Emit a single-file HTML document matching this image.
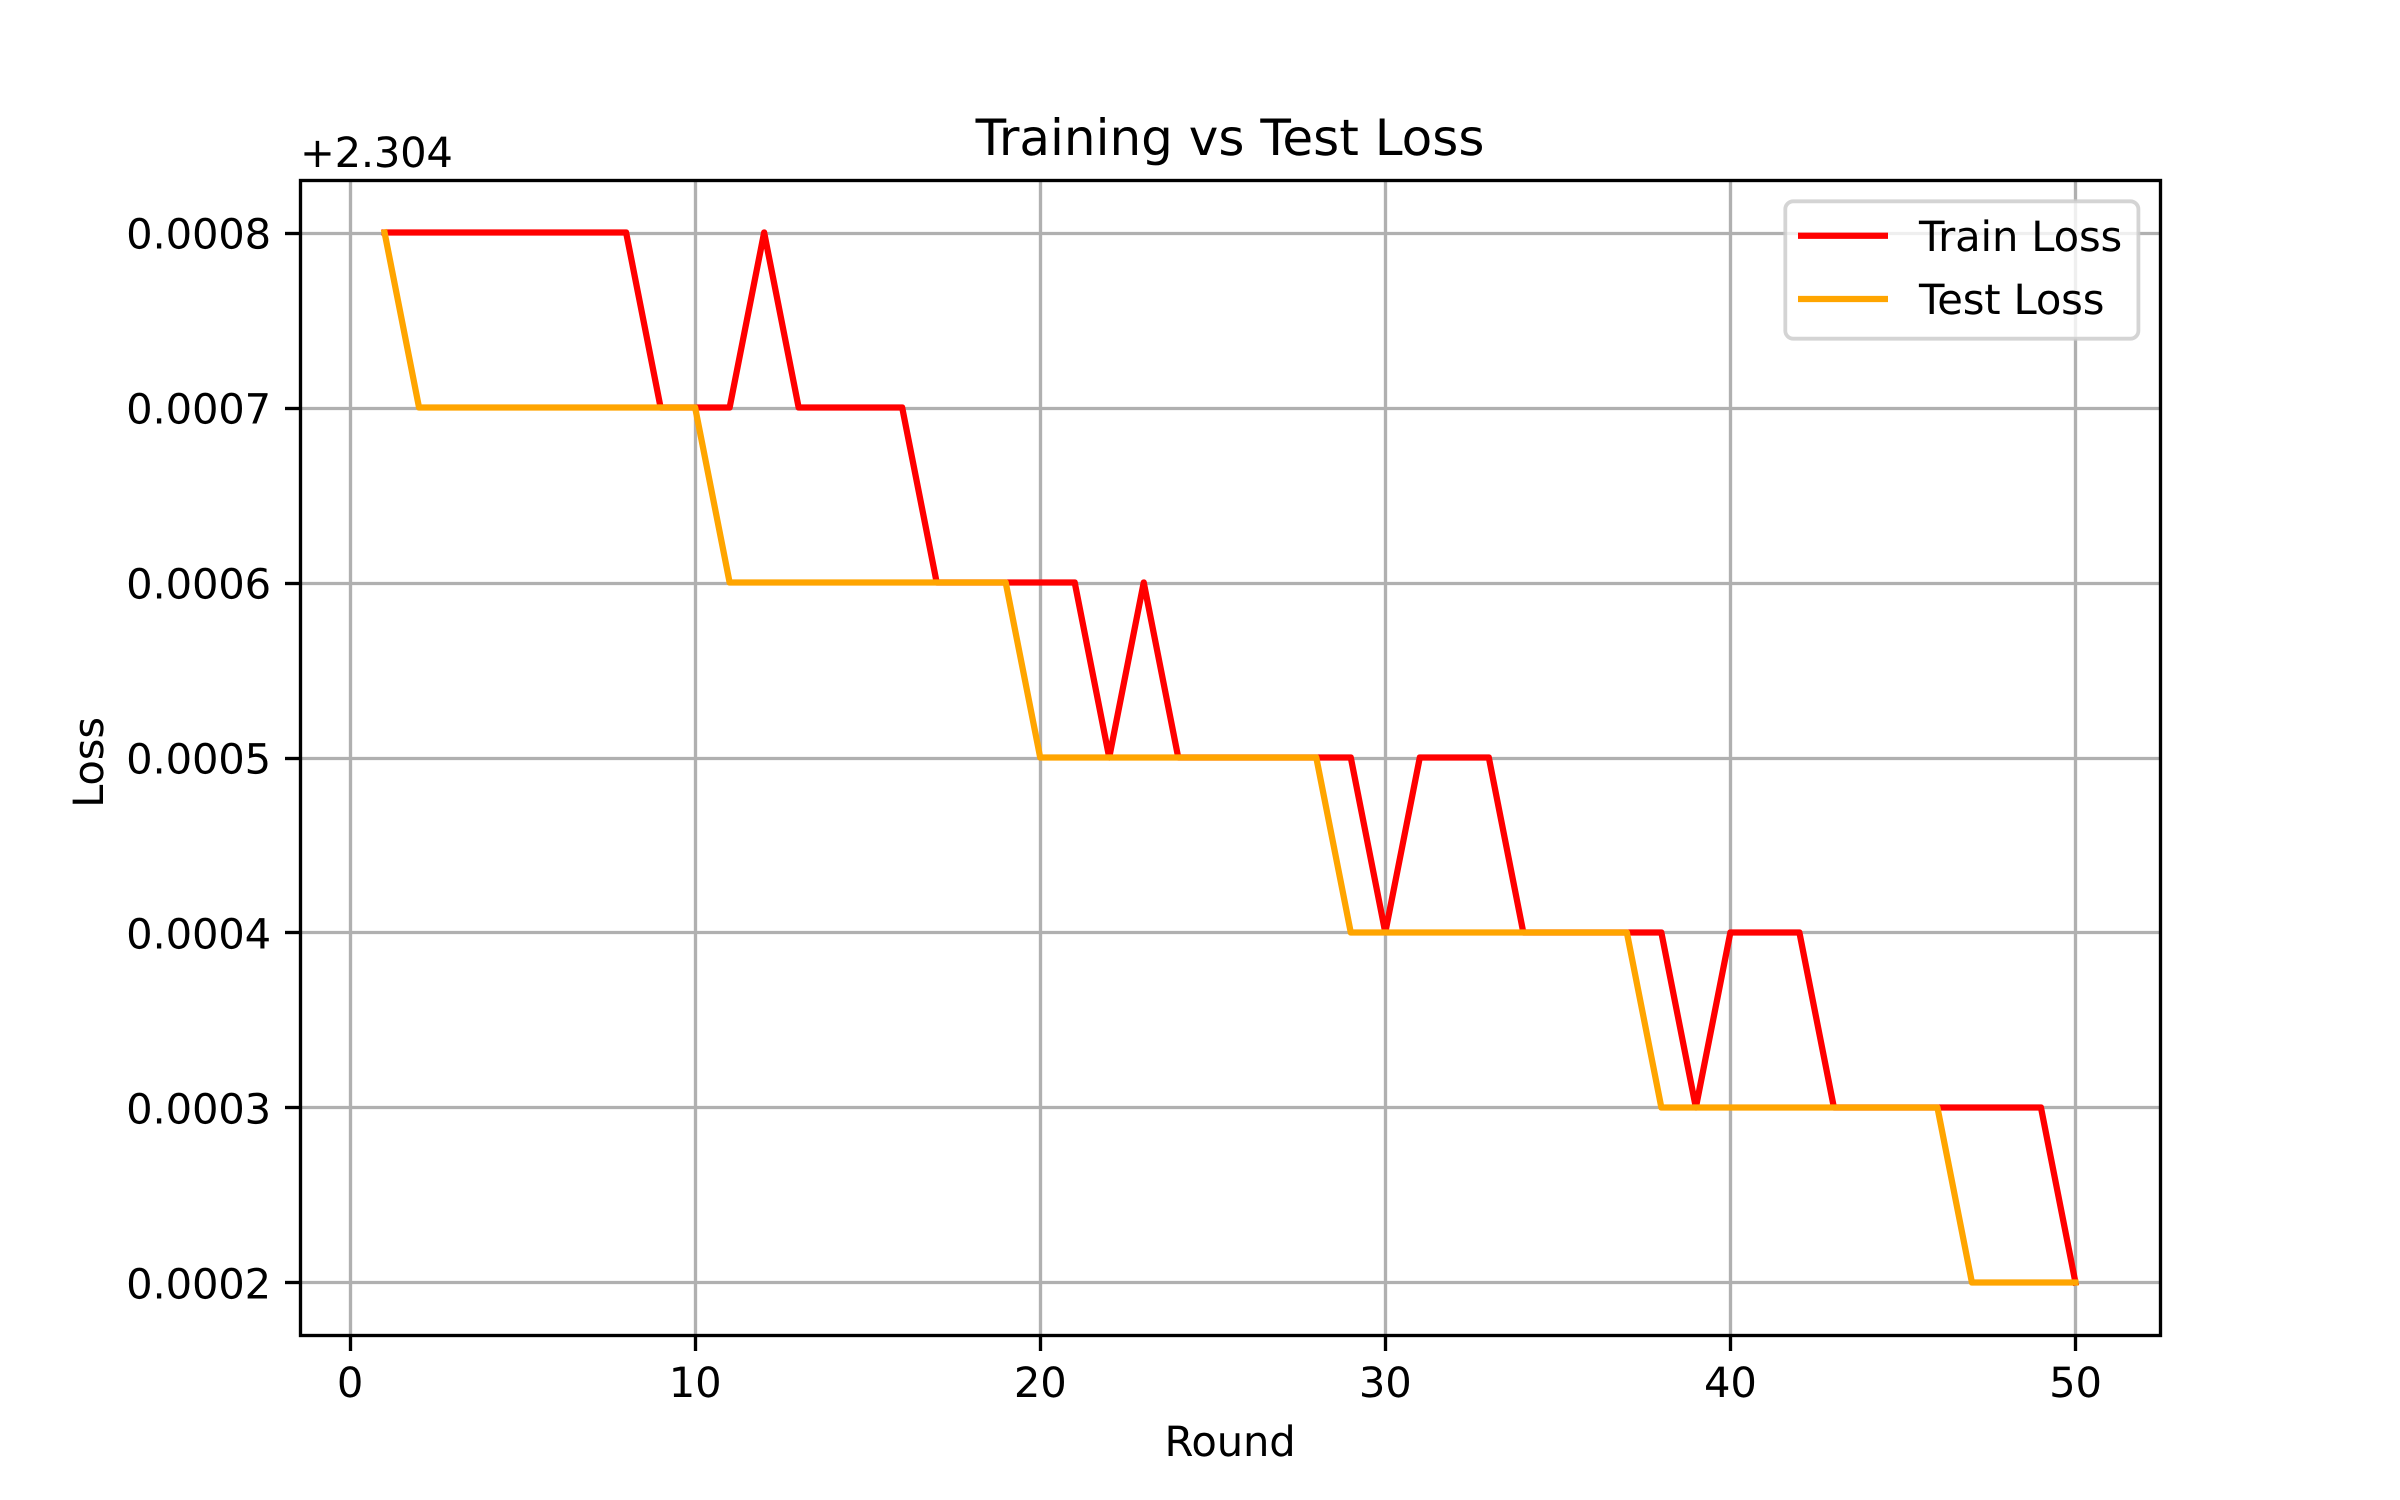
<!DOCTYPE html>
<html lang="en">
<head>
<meta charset="utf-8">
<title>Training vs Test Loss</title>
<style>
html,body{margin:0;padding:0;background:#fff;width:2400px;height:1500px;overflow:hidden}
svg{display:block}
text{font-family:"DejaVu Sans","Liberation Sans",sans-serif;fill:#000;text-rendering:geometricPrecision;letter-spacing:-0.15px}
</style>
</head>
<body>
<svg id="chart" xmlns="http://www.w3.org/2000/svg" width="2400" height="1500" viewBox="0 0 2400 1500">
  <rect x="0" y="0" width="2400" height="1500" fill="#fff"/>
  <g id="grid"></g>
  <g id="series"></g>
  <g id="ticks"></g>
  <rect x="300.5" y="180.5" width="1860" height="1155" fill="none" stroke="#000" stroke-width="3.33"/>
  <text x="1230" y="155" font-size="50" text-anchor="middle" style="letter-spacing:0">Training vs Test Loss</text>
  <text x="300" y="167" font-size="41.67" style="letter-spacing:-0.25px">+2.304</text>
  <text x="1230" y="1456" font-size="41.67" text-anchor="middle">Round</text>
  <text transform="translate(103 762.5) rotate(-90)" font-size="41.67" text-anchor="middle">Loss</text>
  <g>
    <rect x="1785.3" y="201.3" width="353.1" height="137.4" rx="8" ry="8" fill="#fff" fill-opacity="0.8" stroke="#ccc" stroke-opacity="0.85" stroke-width="3.8"/>
    <line x1="1798" x2="1888" y1="235.7" y2="235.7" stroke="#ff0000" stroke-width="6.25"/>
    <text x="1919" y="251" font-size="41.67">Train Loss</text>
    <line x1="1798" x2="1888" y1="299" y2="299" stroke="#ffa500" stroke-width="6.25"/>
    <text x="1919" y="314" font-size="41.67">Test Loss</text>
  </g>
</svg>
<script>
const rounds = [1,2,3,4,5,6,7,8,9,10,11,12,13,14,15,16,17,18,19,20,21,22,23,24,25,26,27,28,29,30,31,32,33,34,35,36,37,38,39,40,41,42,43,44,45,46,47,48,49,50];
const trainLoss = [0.0008,0.0008,0.0008,0.0008,0.0008,0.0008,0.0008,0.0008,0.0007,0.0007,0.0007,0.0008,0.0007,0.0007,0.0007,0.0007,0.0006,0.0006,0.0006,0.0006,0.0006,0.0005,0.0006,0.0005,0.0005,0.0005,0.0005,0.0005,0.0005,0.0004,0.0005,0.0005,0.0005,0.0004,0.0004,0.0004,0.0004,0.0004,0.0003,0.0004,0.0004,0.0004,0.0003,0.0003,0.0003,0.0003,0.0003,0.0003,0.0003,0.0002];
const testLoss = [0.0008,0.0007,0.0007,0.0007,0.0007,0.0007,0.0007,0.0007,0.0007,0.0007,0.0006,0.0006,0.0006,0.0006,0.0006,0.0006,0.0006,0.0006,0.0006,0.0005,0.0005,0.0005,0.0005,0.0005,0.0005,0.0005,0.0005,0.0005,0.0004,0.0004,0.0004,0.0004,0.0004,0.0004,0.0004,0.0004,0.0004,0.0003,0.0003,0.0003,0.0003,0.0003,0.0003,0.0003,0.0003,0.0003,0.0002,0.0002,0.0002,0.0002];
const xTicks = [0,10,20,30,40,50];
const yTicks = [0.0002,0.0003,0.0004,0.0005,0.0006,0.0007,0.0008];

const NS = 'http://www.w3.org/2000/svg';
const allX = rounds;
const allY = trainLoss.concat(testLoss);
const xMinData = Math.min.apply(null, allX), xMaxData = Math.max.apply(null, allX);
const yMinData = Math.min.apply(null, allY), yMaxData = Math.max.apply(null, allY);
const xPad = (xMaxData - xMinData) * 0.05, yPad = (yMaxData - yMinData) * 0.05;
const left = 300, right = 2160, top_ = 180, bottom = 1335;

function xScale(v) {
  return left + (v - (xMinData - xPad)) / ((xMaxData + xPad) - (xMinData - xPad)) * (right - left);
}
function yScale(v) {
  return bottom - (v - (yMinData - yPad)) / ((yMaxData + yPad) - (yMinData - yPad)) * (bottom - top_);
}
function snapX(p) { return Math.floor(p) + 0.5; }
function snapY(p) { return Math.floor(p + 0.01 + (p < 800 ? 1 : 0)) + 0.5; }
function make(tag, attrs, parent) {
  const el = document.createElementNS(NS, tag);
  Object.keys(attrs).forEach(function (k) { el.setAttribute(k, attrs[k]); });
  parent.appendChild(el);
  return el;
}

const gridG = document.getElementById('grid');
const ticksG = document.getElementById('ticks');
const seriesG = document.getElementById('series');

xTicks.forEach(function (t) {
  const px = snapX(xScale(t));
  const g = make('line', {x1: px, x2: px, y1: top_, y2: bottom, stroke: '#b0b0b0', 'stroke-width': 3.33}, gridG);
  
  
  const m = make('line', {x1: px, x2: px, y1: bottom, y2: bottom + 16, stroke: '#000', 'stroke-width': 3.33}, ticksG);
  
  
  const l = make('text', {x: xScale(t), y: 1397, 'font-size': 41.67, 'text-anchor': 'middle'}, ticksG);
  
  
  l.textContent = String(t);
});

yTicks.forEach(function (t) {
  const py = snapY(yScale(t));
  const g = make('line', {x1: left, x2: right, y1: py, y2: py, stroke: '#b0b0b0', 'stroke-width': 3.33}, gridG);
  
  
  const m = make('line', {x1: left - 15, x2: left, y1: py, y2: py, stroke: '#000', 'stroke-width': 3.33}, ticksG);
  
  
  const l = make('text', {x: 271, y: yScale(t) + 15.8, 'font-size': 41.67, 'text-anchor': 'end'}, ticksG);
  
  
  l.textContent = t.toFixed(4);
});

function linePoints(values) {
  return values.map(function (v, i) {
    return xScale(rounds[i]).toFixed(2) + ',' + yScale(v).toFixed(2);
  }).join(' ');
}

const trainLine = make('polyline', {points: linePoints(trainLoss), fill: 'none', stroke: '#ff0000', 'stroke-width': 6.25, 'stroke-linejoin': 'round', 'stroke-linecap': 'square'}, seriesG);



const testLine = make('polyline', {points: linePoints(testLoss), fill: 'none', stroke: '#ffa500', 'stroke-width': 6.25, 'stroke-linejoin': 'round', 'stroke-linecap': 'square'}, seriesG);


</script>
</body>
</html>
